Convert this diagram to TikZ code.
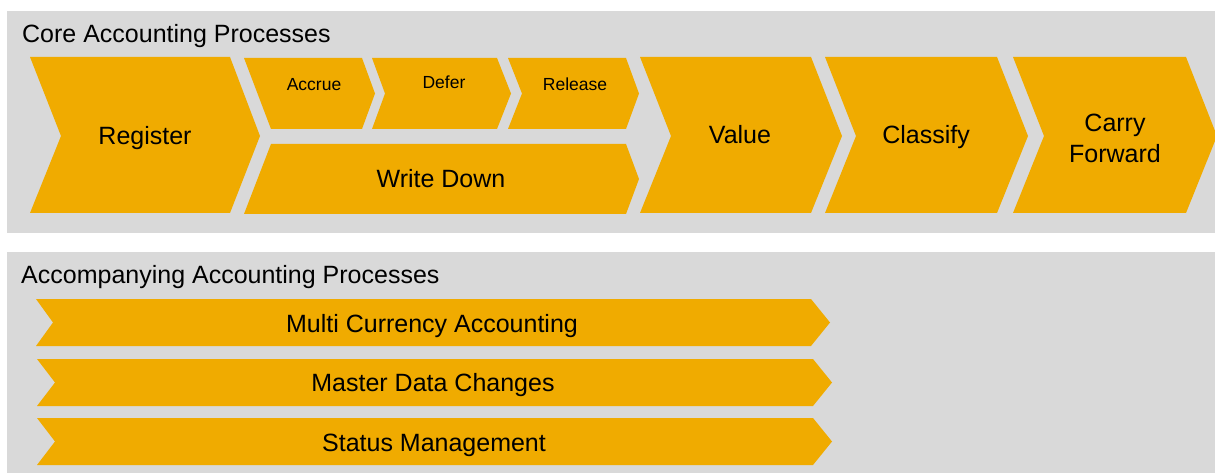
\documentclass[tikz,border=0pt]{standalone}
\usepackage{fontspec}
\setmainfont{Liberation Sans}
\definecolor{gold}{HTML}{F0AB00}
\definecolor{panel}{HTML}{D9D9D9}
\begin{document}
\begin{tikzpicture}[x=1pt,y=-1pt,
  panelbox/.style={fill=panel,draw=none},
  chev/.style={fill=gold,draw=none},
  bigtxt/.style={font=\fontsize{25}{31}\selectfont,text=black,inner sep=0pt,align=center,anchor=base},
  smalltxt/.style={font=\fontsize{17.5}{21}\selectfont,text=black,inner sep=0pt,anchor=base},
  titletxt/.style={font=\fontsize{25}{30}\selectfont,text=black,inner sep=0pt,anchor=base west}]
\useasboundingbox (0,0) rectangle (1215,473);
\fill[white] (0,0) rectangle (1215,473);
% panels
\path[panelbox] (7,11) rectangle (1215,233);
\path[panelbox] (7,252) rectangle (1215,473);
\node[titletxt] (coretitle) at (22,42.5) {Core Accounting Processes};
\node[titletxt] (acctitle) at (21,283) {Accompanying Accounting Processes};
% core chevrons
\path[chev] (30,57) -- (230,57) -- (260,136) -- (230,213) -- (30,213) -- (61,136) -- cycle;
\node[bigtxt] (register) at (145,145) {Register};
\path[chev] (244,58) -- (362,58) -- (375,93.5) -- (362,129) -- (271,129) -- cycle;
\node[smalltxt] (accrue) at (314,91) {Accrue};
\path[chev] (372,58) -- (497,58) -- (511,93.5) -- (497,129) -- (372,129) -- (385,93.5) -- cycle;
\node[smalltxt] (defer) at (444,89) {Defer};
\path[chev] (508,58) -- (626,58) -- (639,93.5) -- (626,129) -- (508,129) -- (522,93.5) -- cycle;
\node[smalltxt] (release) at (575,91) {Release};
\path[chev] (271,144) -- (626,144) -- (639,179) -- (626,214) -- (244,214) -- cycle;
\node[bigtxt] (writedown) at (441,188) {Write Down};
\path[chev] (640,57) -- (811,57) -- (842,136) -- (811,213) -- (640,213) -- (671,136) -- cycle;
\node[bigtxt] (value) at (740,144) {Value};
\path[chev] (825,57) -- (997,57) -- (1028,136) -- (997,213) -- (825,213) -- (856,136) -- cycle;
\node[bigtxt] (classify) at (926,144) {Classify};
\path[chev] (1013,57) -- (1186,57) -- (1217,136) -- (1186,213) -- (1013,213) -- (1044,136) -- cycle;
\node[bigtxt,anchor=center] (carry) at (1115,138) {Carry\\Forward};
% accompanying bars
\path[chev] (36,299) -- (811,299) -- (830,322.5) -- (811,346) -- (36,346) -- (53,322.5) -- cycle;
\node[bigtxt] (multi) at (432,332) {Multi Currency Accounting};
\path[chev] (37,359) -- (813,359) -- (832,382.5) -- (813,406) -- (37,406) -- (55,382.5) -- cycle;
\node[bigtxt] (master) at (433,391) {Master Data Changes};
\path[chev] (37,418) -- (813,418) -- (832,441.5) -- (813,465) -- (37,465) -- (55,441.5) -- cycle;
\node[bigtxt] (status) at (434,451) {Status Management};
\end{tikzpicture}
\end{document}
